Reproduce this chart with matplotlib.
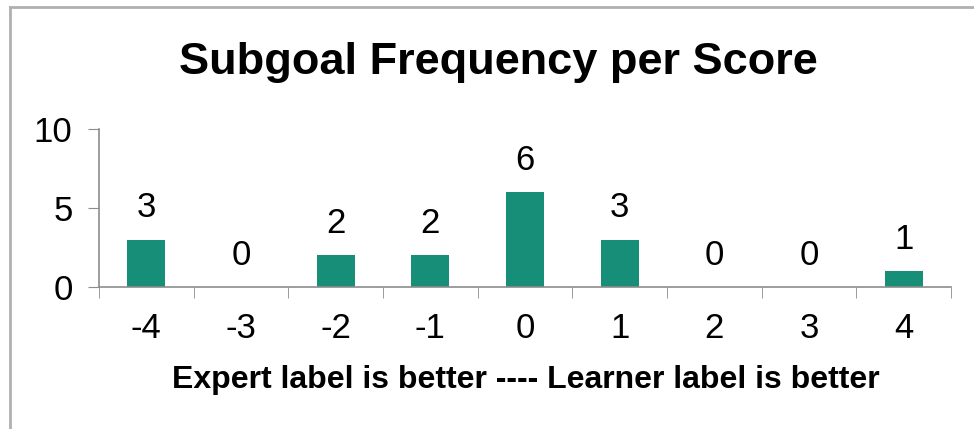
import matplotlib.pyplot as plt
from matplotlib.lines import Line2D

# Data
scores = ['-4', '-3', '-2', '-1', '0', '1', '2', '3', '4']
frequency = [3, 0, 2, 2, 6, 3, 0, 0, 1]

bar_color = '#178f78'
spine_color = '#8c8c8c'

plt.rcParams['font.family'] = ['Liberation Sans', 'DejaVu Sans']

fig = plt.figure(figsize=(9.74, 4.29), dpi=100)
ax = fig.add_axes([99 / 974, 1 - 287 / 429, (951 - 99) / 974, (287 - 129) / 429])

x = list(range(len(scores)))
bars = ax.bar(x, frequency, width=0.4, color=bar_color, zorder=2)

# Value labels above bars
for xi, v in zip(x, frequency):
    ax.annotate(str(v), (xi, v), xytext=(0, 16), textcoords='offset points',
                ha='center', va='baseline', fontsize=25)

ax.set_xlim(-0.5, len(scores) - 0.5)
ax.set_ylim(0, 10)
ax.set_yticks([0, 5, 10])
ax.set_xticks(x)
ax.set_xticklabels(scores)
ax.set_xticks([i - 0.5 for i in range(len(scores) + 1)], minor=True)

ax.tick_params(axis='x', which='major', length=0, pad=18, labelsize=25)
ax.tick_params(axis='x', which='minor', length=8, color=spine_color, direction='out')
ax.tick_params(axis='y', length=8, color=spine_color, pad=11, labelsize=25)

for side in ['top', 'right']:
    ax.spines[side].set_visible(False)
for side in ['left', 'bottom']:
    ax.spines[side].set_color(spine_color)
    ax.spines[side].set_linewidth(1.2)

# Axis caption and title placed in figure coordinates
fig.text(526 / 974, 1 - 388 / 429, 'Expert label is better ---- Learner label is better',
         ha='center', va='baseline', fontsize=23, fontweight='bold')

fig.text(498 / 974, 1 - 74 / 429, 'Subgoal Frequency per Score',
         ha='center', va='baseline', fontsize=32.5, fontweight='bold')

# Chart border (left and top edges visible in the crop)
fig.add_artist(Line2D([10 / 974, 10 / 974], [0, 1 - 7 / 429], color='#b0b0b0', lw=2,
                      transform=fig.transFigure))
fig.add_artist(Line2D([10 / 974, 1], [1 - 7 / 429, 1 - 7 / 429], color='#b0b0b0', lw=2,
                      transform=fig.transFigure))

fig.savefig('out.png', dpi=100)
